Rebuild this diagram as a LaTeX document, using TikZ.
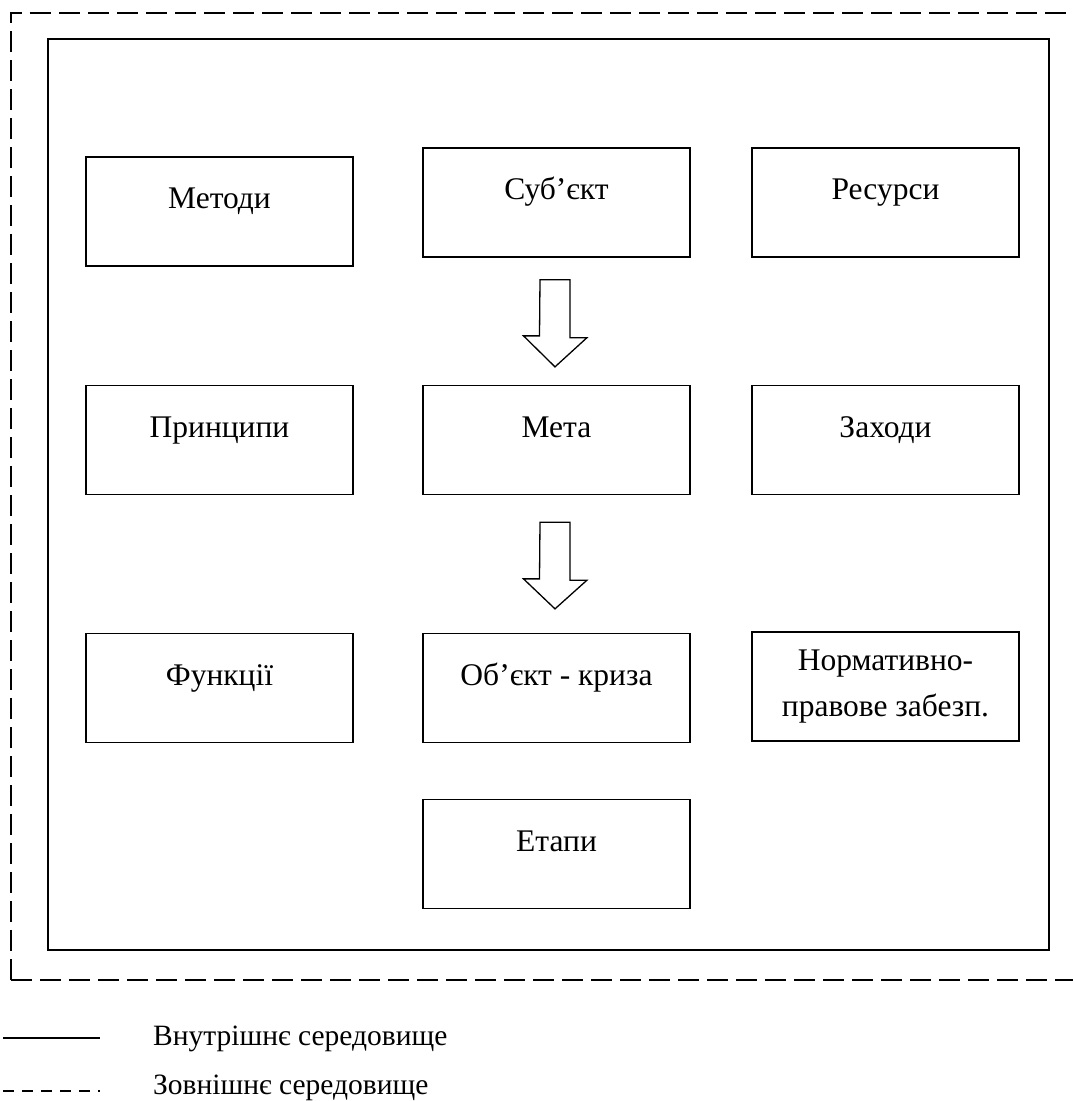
\documentclass[tikz,border=0pt]{standalone}
\usepackage{fontspec}
\setmainfont{Liberation Serif}
\usetikzlibrary{calc}
\begin{document}
\begin{tikzpicture}[x=1pt,y=-1pt,
  box/.style={draw,line width=1.3pt,minimum width=267pt,minimum height=109pt,inner sep=0pt,
    font=\fontsize{31.5}{36}\selectfont,text height=22pt,text depth=28pt},
  box2/.style={draw,line width=1.3pt,minimum width=267pt,minimum height=109pt,inner sep=0pt,
    font=\fontsize{31.5}{46}\selectfont,align=center},
  blockarrow/.style={draw,line width=1.3pt,fill=white,line join=miter},
  outerline/.style={line width=2.6pt,dash pattern=on 21pt off 8pt},
  innerline/.style={line width=2.6pt},
  legtext/.style={font=\fontsize{29.5}{34}\selectfont,anchor=base west,inner sep=0pt}]
\useasboundingbox (0,0) rectangle (1073,1101);
% outer dashed environment
\coordinate (oa) at (11,980);
\coordinate (ob) at (11,13);
\coordinate (oc) at (1080,13);
\coordinate (od) at (1080,980);
\draw[outerline] (oa) -- (ob) -- (oc);
\draw[outerline] (oa) -- (od);
% inner environment
\coordinate (ia) at (48,39);
\coordinate (ib) at (1049,950);
\draw[innerline] (ia) rectangle (ib);
% boxes
\node[box] (metody) at (219.5,211.5) {Методи};
\node[box] (subj) at (556.5,202.5) {Суб’єкт};
\node[box] (resursy) at (885.5,202.5) {Ресурси};
\node[box] (pryntsypy) at (219.5,440) {Принципи};
\node[box] (meta) at (556.5,440) {Мета};
\node[box] (zakhody) at (885.5,440) {Заходи};
\node[box] (funktsii) at (219.5,688) {Функції};
\node[box] (obiekt) at (556.5,688) {Об’єкт - криза};
\node[box2] (norm) at (885.5,686.5) {Нормативно-\\правове забезп.};
\node[box] (etapy) at (556.5,854) {Етапи};
% block arrows
\draw[blockarrow] ($(subj.south)+(-16.5,22)$) -- ++(30,0) -- ++(0,58) -- ++(17,0)
  -- ($(meta.north)+(-1.5,-18)$) -- ++(-31.5,-31) -- ++(16,0) -- cycle;
\draw[blockarrow] ($(meta.south)+(-16.5,27)$) -- ++(30,0) -- ++(0,58) -- ++(17,0)
  -- ($(obiekt.north)+(-1.5,-24)$) -- ++(-31.5,-30) -- ++(16,0) -- cycle;
% legend
\coordinate (l1a) at (3,1038);
\coordinate (l1b) at (100,1038);
\coordinate (l2a) at (3,1091);
\coordinate (l2b) at (100,1091);
\draw[line width=2.6pt] (l1a) -- (l1b);
\draw[line width=2.4pt,dash pattern=on 11pt off 8pt] (l2a) -- (l2b);
\node[legtext] (leg1) at (153,1045) {Внутрішнє середовище};
\node[legtext] (leg2) at (153,1094) {Зовнішнє середовище};
\end{tikzpicture}
\end{document}
